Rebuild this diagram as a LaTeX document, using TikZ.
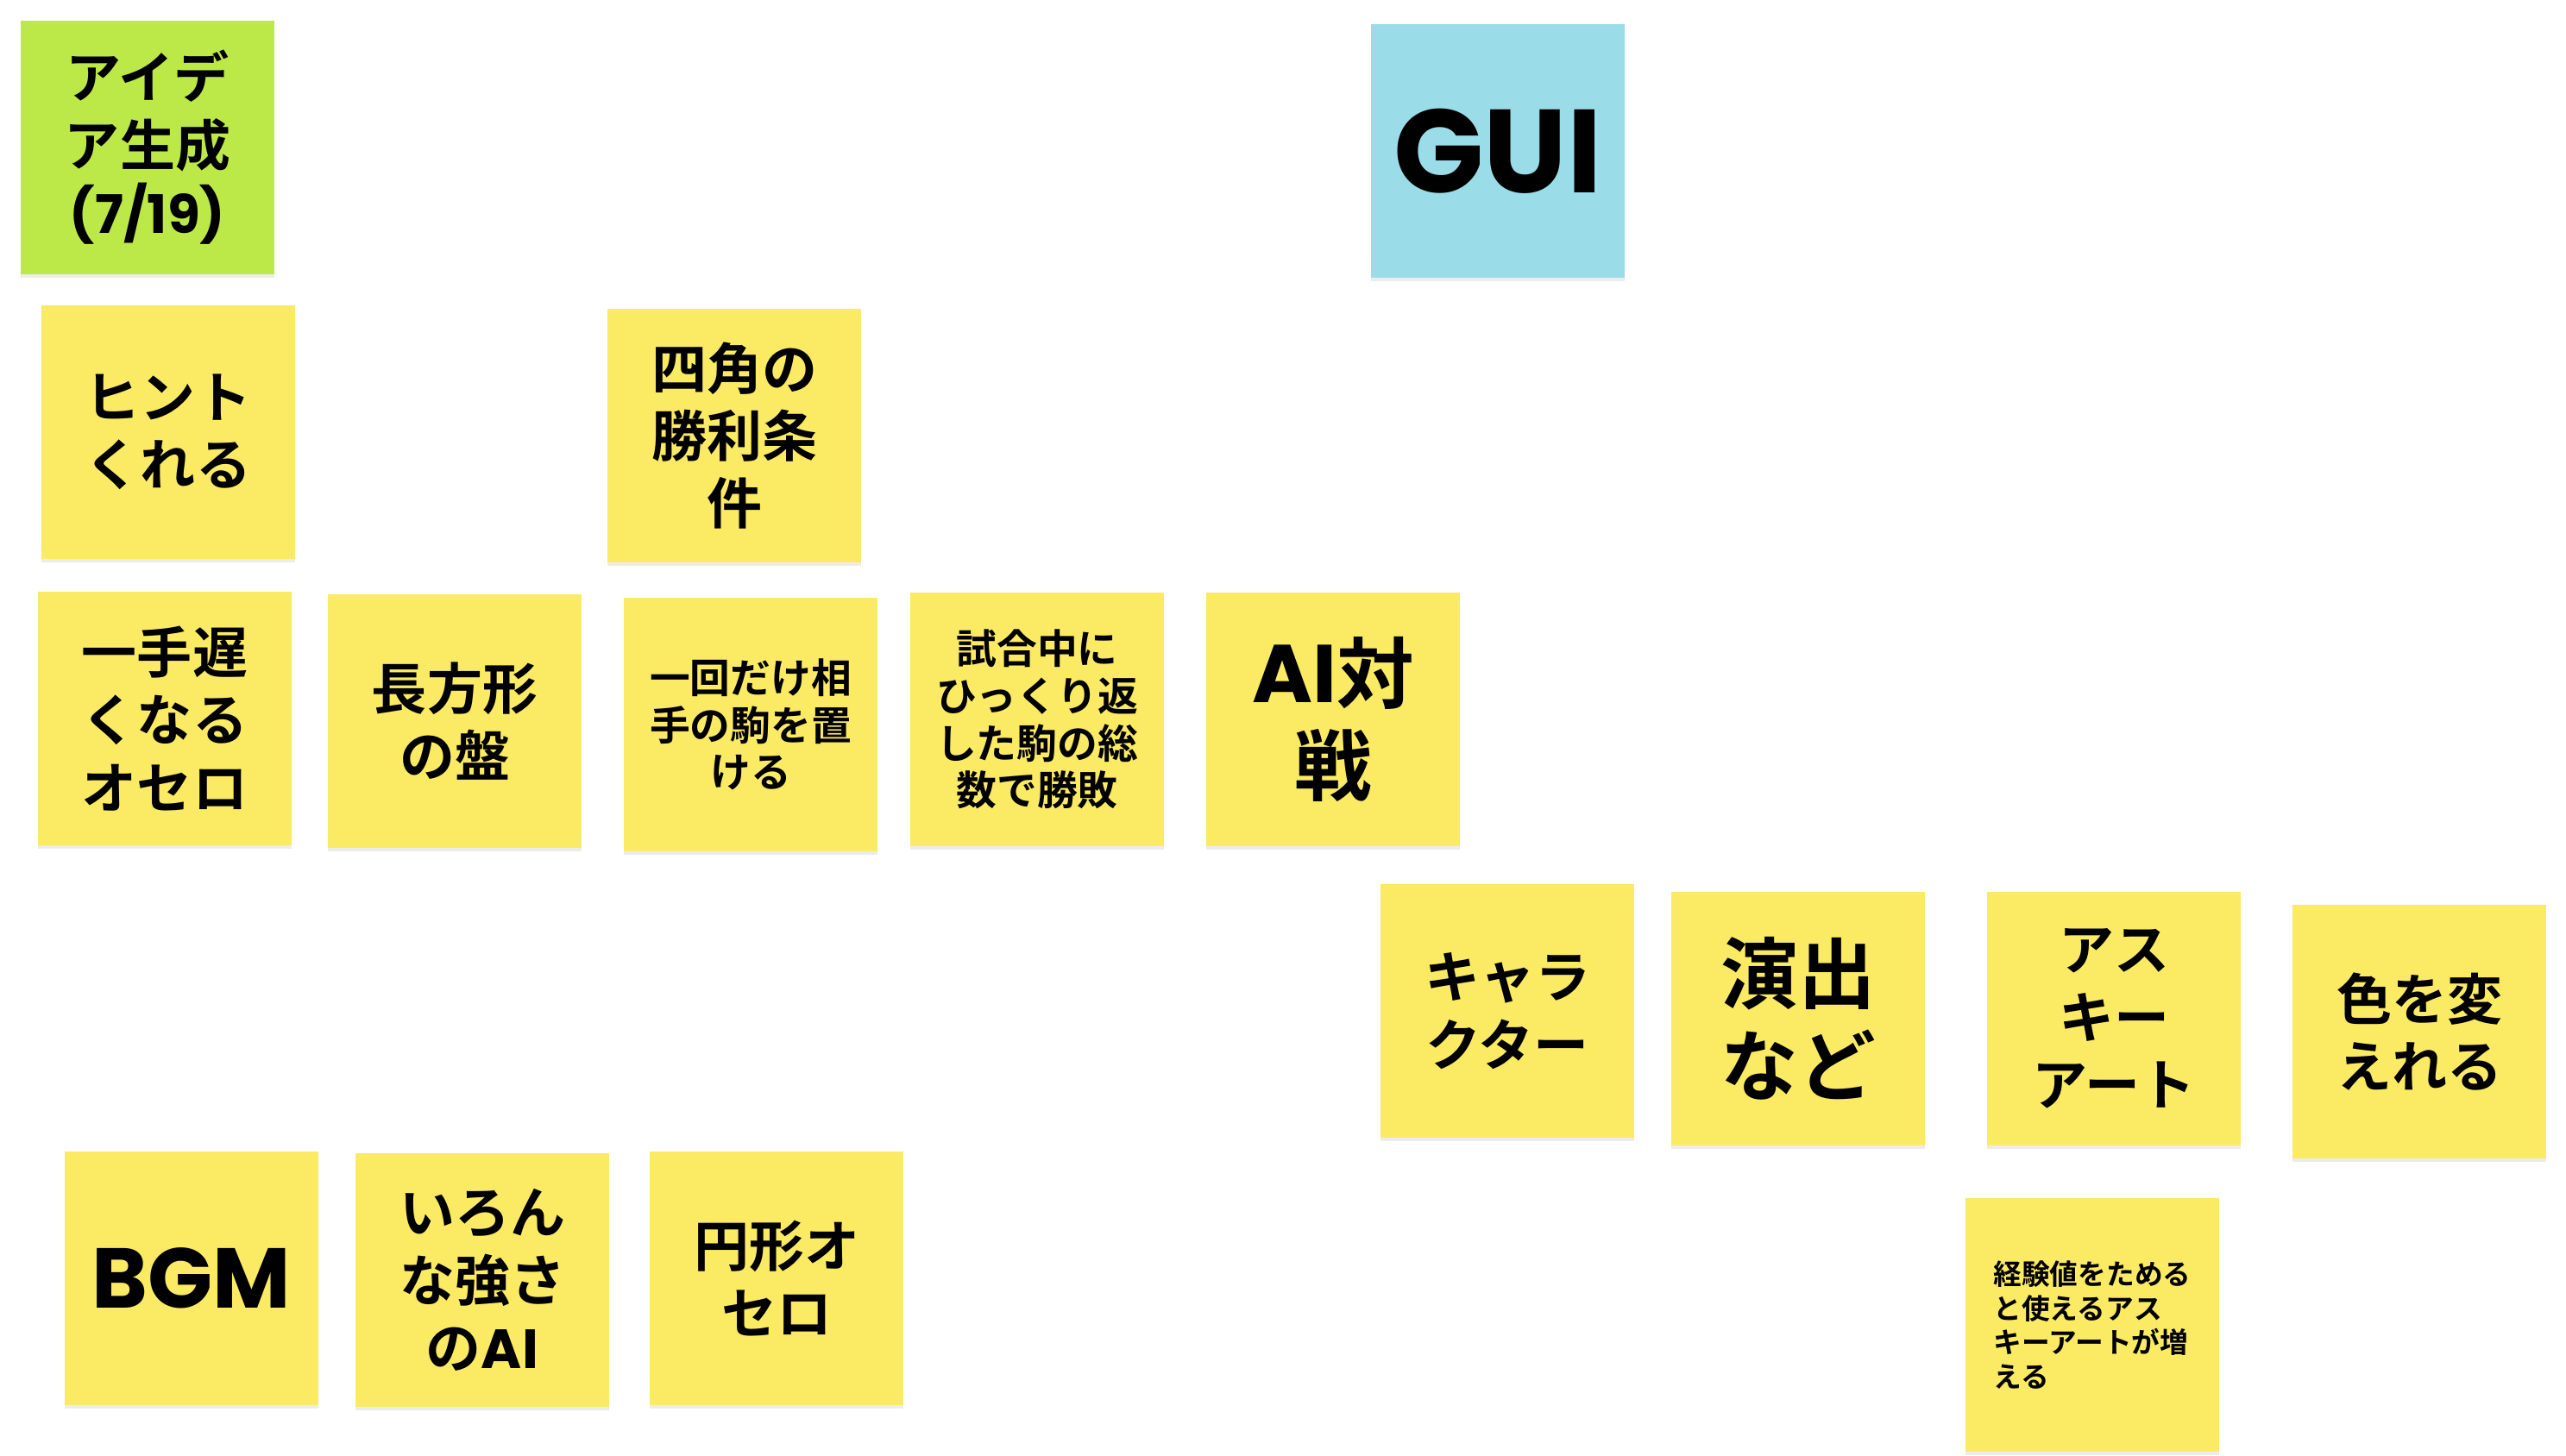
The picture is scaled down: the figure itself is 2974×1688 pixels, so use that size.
\documentclass[tikz,border=0pt]{standalone}
\usepackage{fontspec}
\setmainfont{Noto Sans CJK JP Bold}
\newfontfamily\latfont{Poppins Bold}
\usepackage{tikz}
\usetikzlibrary{shadows}

\definecolor{noteyellow}{RGB}{251,234,99}
\definecolor{notegreen}{RGB}{188,232,72}
\definecolor{noteblue}{RGB}{154,221,233}

\tikzset{
  note/.style={fill=noteyellow, minimum width=2.94cm, minimum height=2.94cm,
    inner sep=0pt, align=center, font=\fontsize{18.2}{22.3}\selectfont,
    drop shadow={shadow xshift=0pt, shadow yshift=-0.04cm, opacity=0.15}},
  bignote/.style={note, font=\fontsize{25.5}{30.5}\selectfont},
  smallnote/.style={note, font=\fontsize{13.3}{15.6}\selectfont},
  tinynote/.style={note, align=left, font=\fontsize{9.3}{11.2}\selectfont},
}

\begin{document}
\begin{tikzpicture}[x=0.01cm, y=-0.01cm]
\useasboundingbox (0,0) rectangle (2974,1688);

% Header notes
\node[note, fill=notegreen] (idea) at (171,171) {アイデ\\ア生成\\{\latfont\fontsize{17.5}{22.3}\selectfont (7/19)}};
\node[note, fill=noteblue, font=\fontsize{39}{42}\selectfont] (gui) at (1736,175) {\latfont GUI};

% Rule ideas
\node[note] (hint)   at (195,501)  {ヒント\\くれる};
\node[note] (square) at (851,505)  {四角の\\勝利条\\件};
\node[note] (late)   at (191,833)  {一手遅\\くなる\\オセロ};
\node[note] (rect)   at (527,836)  {長方形\\の盤};
\node[smallnote] (once)  at (870,840)  {一回だけ相\\手の駒を置\\ける};
\node[smallnote] (flips) at (1202,834) {試合中に\\ひっくり返\\した駒の総\\数で勝敗};
\node[bignote] (aivs)    at (1545,834) {{\latfont\fontsize{27}{30.5}\selectfont AI}対\\戦};

% GUI ideas
\node[note] (chara)     at (1747,1172) {キャラ\\クター};
\node[bignote] (effect) at (2084,1181) {演出\\など};
\node[note] (ascii)     at (2450,1181) {アス\\キー\\アート};
\node[note] (color)     at (2804,1196) {色を変\\えれる};
\node[tinynote] (exp)   at (2425,1536) {経験値をためる\\と使えるアス\\キーアートが増\\える};

% Other ideas
\node[bignote, font=\fontsize{28}{30.5}\selectfont] (bgm) at (222,1482) {\latfont BGM};
\node[note] (levels) at (559,1484) {いろん\\な強さ\\の{\latfont AI}};
\node[note] (circle) at (900,1482) {円形オ\\セロ};

\end{tikzpicture}
\end{document}
